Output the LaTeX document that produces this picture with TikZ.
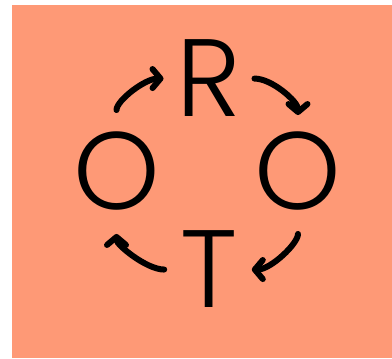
\documentclass[tikz,border=0pt]{standalone}
\usepackage{fontspec}
\setmainfont{Poppins Light}
\usetikzlibrary{arrows.meta}
\definecolor{rotbg}{RGB}{254,153,118}
\tikzset{
  letter/.style={font=\fontsize{110}{110}\selectfont, inner sep=0pt, anchor=base},
  cyc/.style={line width=6pt, line cap=round,
    -{Straight Barb[length=8pt,width=19pt,round]}}
}
\begin{document}
\begin{tikzpicture}[x=1pt,y=1pt]
  \useasboundingbox (0,0) rectangle (392,359);
  \fill[rotbg] (12,1) rectangle (392,354);
  % letters round the cycle
  \node[letter] (r)  at (209,242)   {R};
  \node[letter] (ol) at (116.5,149) {O};
  \node[letter] (or) at (298,149)   {O};
  \node[letter] (t)  at (209,51)    {T};
  % arrows between them
  \draw[cyc, shorten <=22pt, shorten >=13pt] (ol.north) to[out=90,in=180] (r.west);
  \draw[cyc, shorten <=13pt, shorten >=17pt] (r.east) to[out=0,in=90] (or.north);
  \draw[cyc, shorten <=23pt, shorten >=14pt] (or.south) to[out=270,in=0] (t.east);
  \draw[cyc, shorten <=16pt, shorten >=23pt] (t.west) to[out=180,in=270] (ol.south);
\end{tikzpicture}
\end{document}
